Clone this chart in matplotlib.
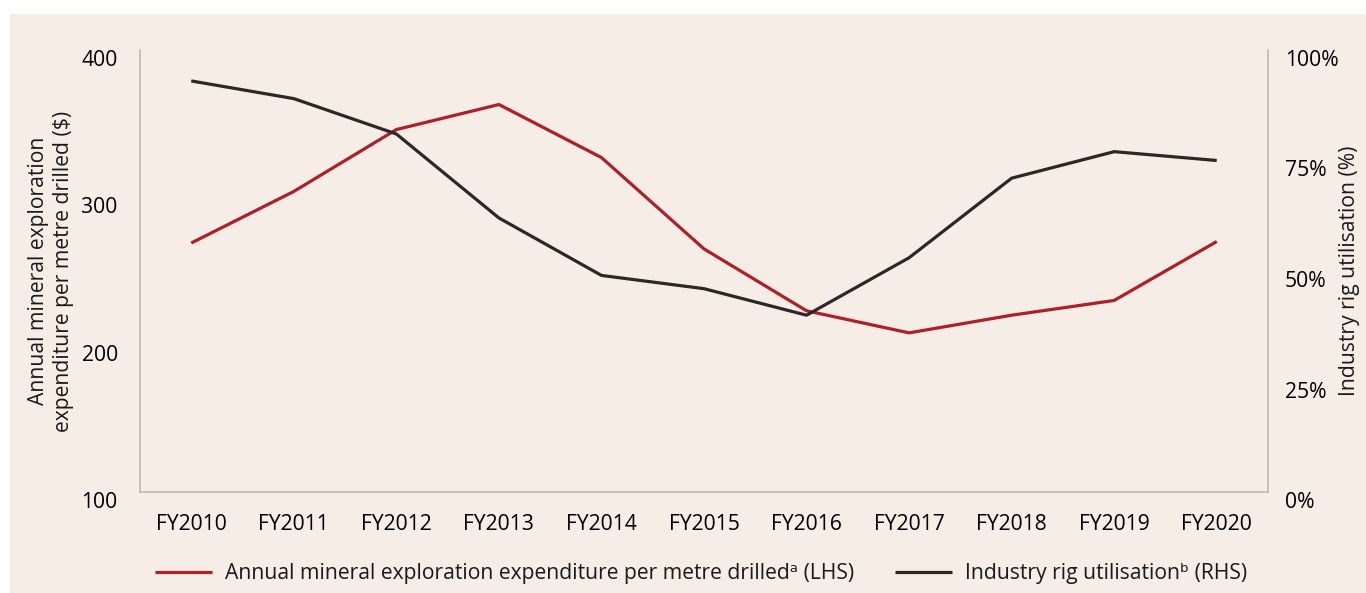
import matplotlib.pyplot as plt
import matplotlib.transforms as mtransforms
from matplotlib.patches import Rectangle

# data
years = ['FY2010', 'FY2011', 'FY2012', 'FY2013', 'FY2014', 'FY2015',
         'FY2016', 'FY2017', 'FY2018', 'FY2019', 'FY2020']
spend_per_metre = [269, 304, 346, 363, 327, 265, 223, 208, 220, 230, 270]
rig_utilisation = [93, 89, 81, 62, 49, 46, 40, 53, 71, 77, 75]

left_ticks = [100, 200, 300, 400]
right_ticks = [0, 25, 50, 75, 100]

bg = '#f6ede7'
red = '#b01f27'
dark = '#2e2627'
spine_col = '#b7bac0'

plt.rcParams['font.family'] = ['Open Sans', 'DejaVu Sans']
plt.rcParams['font.size'] = 15.2
plt.rcParams['text.color'] = '#1a1a1a'

fig = plt.figure(figsize=(13.66, 5.93), dpi=100, facecolor='white')
# beige panel (white strip on top and left)
fig.patches.append(Rectangle((10 / 1366, 0), 1, 1 - 14 / 593, transform=fig.transFigure,
                             facecolor=bg, edgecolor='none', zorder=-10))

ax = fig.add_axes([140 / 1366, 1 - 492 / 593, 1128 / 1366, 442 / 593])
ax.set_facecolor('none')
ax2 = ax.twinx()

x = list(range(len(years)))
l1, = ax.plot(x, spend_per_metre, color=red, lw=2.3, solid_capstyle='butt',
              label='Annual mineral exploration expenditure per metre drilled\u1d43 (LHS)')
l2, = ax2.plot(x, rig_utilisation, color=dark, lw=2.3, solid_capstyle='butt',
               label='Industry rig utilisation\u1d47 (RHS)')

ax.set_xlim(-0.5, 10.5)
ax.set_ylim(100, 400)
ax2.set_ylim(0, 100)
ax.set_xticks(x)
ax.set_xticklabels(years)
ax.set_yticks(left_ticks)
ax2.set_yticks(right_ticks)
ax2.set_yticklabels([f'{t}%' for t in right_ticks])

for a in (ax, ax2):
    for s in a.spines.values():
        s.set_visible(False)
ax.spines['left'].set_visible(True)
ax.spines['bottom'].set_visible(True)
ax2.spines['right'].set_visible(True)
for s in (ax.spines['left'], ax.spines['bottom'], ax2.spines['right']):
    s.set_color(spine_col)
    s.set_linewidth(1.2)

ax.tick_params(axis='y', length=0, pad=16)
ax.tick_params(axis='x', length=0, pad=16)
ax2.tick_params(axis='y', length=0, pad=12)

# tick labels in the reference sit a little below their tick value
shift = mtransforms.ScaledTranslation(0, -8 / 100, fig.dpi_scale_trans)
for lab in ax.get_yticklabels() + ax2.get_yticklabels():
    lab.set_transform(lab.get_transform() + shift)

fig.text(51 / 1366, 1 - 271 / 593,
         'Annual mineral exploration\nexpenditure per metre drilled ($)',
         rotation=90, ha='center', va='center', ma='center', linespacing=1.2)
fig.text(1350 / 1366, 1 - 271 / 593, 'Industry rig utilisation (%)',
         rotation=90, ha='center', va='center')

fig.legend(handles=[l1, l2], loc='center', bbox_to_anchor=(701 / 1366, 1 - 574 / 593),
           ncol=2, frameon=False, handlelength=2.7, handletextpad=0.65,
           columnspacing=1.9)

fig.savefig('out.png', dpi=100, facecolor='white')
